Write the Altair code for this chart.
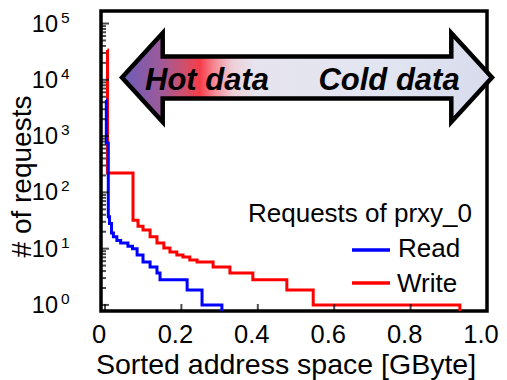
import altair as alt
import pandas as pd

# ---- data ----
series_names = ["Read", "Write"]
series_colors = ["#0000FF", "#FF0000"]

# step-after points: value holds from x until the next x (last point = drop to axis)
write_x = [0.006, 0.0065, 0.0733, 0.0864, 0.0995, 0.118, 0.136, 0.154, 0.170, 0.188,
           0.204, 0.222, 0.241, 0.283, 0.327, 0.387, 0.476, 0.545, 0.929]
write_y = [34000, 220, 32, 25, 21.5, 16.2, 12.6, 10.3, 8.7, 7.7,
           7.1, 6.3, 5.8, 4.7, 3.7, 2.8, 1.85, 1.0, 0.5]

read_x = [0.0026, 0.0034, 0.0086, 0.0118, 0.017, 0.022, 0.031, 0.041, 0.060, 0.072,
          0.084, 0.0995, 0.118, 0.136, 0.144, 0.215, 0.254, 0.306]
read_y = [4370, 754, 37, 28, 19, 16.2, 14, 12.6, 11, 10,
          7.7, 5.8, 4.7, 3.7, 2.8, 1.85, 1.0, 0.5]

x_ticks = [0, 0.2, 0.4, 0.6, 0.8, 1.0]
y_major = [1, 10, 100, 1000, 10000, 100000]
y_exponents = ["0", "1", "2", "3", "4", "5"]
y_minor = [m * 10 ** k for k in range(5) for m in range(2, 10)]

x_title = "Sorted address space [GByte]"
y_title = "# of requests"
legend_title = "Requests of prxy_0"
arrow_texts = ["Hot data", "Cold data"]

FONT = "Liberation Sans"
W, H = 386, 300

xscale = alt.Scale(domain=[-0.0105, 1.0], nice=False, zero=False)
yscale = alt.Scale(type="log", domain=[0.78, 167000], nice=False)

xaxis = alt.Axis(values=x_ticks, ticks=False, tickSize=0, domain=False, grid=False,
                 labelExpr="datum.value == 0 ? '0' : format(datum.value, '.1f')",
                 labelFont=FONT, labelFontSize=25.5, labelColor="black",
                 labelPadding=11.5, labelOffset=-6.5, labelFlush=False, title=None)
xenc = alt.X("x:Q", scale=xscale, axis=xaxis)
yenc = alt.Y("y:Q", scale=yscale, axis=None)


def line_layer(xs, ys, color):
    df = pd.DataFrame({"x": xs, "y": ys})
    return alt.Chart(df).mark_line(interpolate="step-after", strokeWidth=3,
                                   clip=True, color=color).encode(x=xenc, y=yenc)


def label(text, x, y, **kw):
    df = pd.DataFrame({"t": [text]})
    return alt.Chart(df).mark_text(font=FONT, color="black", **kw).encode(
        x=alt.value(x), y=alt.value(y), text="t:N")


write_line = line_layer(write_x, write_y, series_colors[1])
read_line = line_layer(read_x, read_y, series_colors[0])

# ticks (inward)
x_tick_layer = alt.Chart(pd.DataFrame({"x": x_ticks})).mark_tick(
    orient="vertical", size=7, thickness=2, color="black").encode(
    x=xenc, y=alt.value(H - 3.5))
y_major_layer = alt.Chart(pd.DataFrame({"y": y_major})).mark_tick(
    orient="horizontal", size=8, thickness=2, color="black").encode(
    y=yenc, x=alt.value(4))
y_minor_layer = alt.Chart(pd.DataFrame({"y": y_minor})).mark_tick(
    orient="horizontal", size=5, thickness=2, color="black").encode(
    y=yenc, x=alt.value(2.5))

# y tick labels with superscript exponents
ylab_df = pd.DataFrame({"y": y_major, "exp": y_exponents, "base": ["10"] * len(y_major)})
y_base = alt.Chart(ylab_df).mark_text(font=FONT, fontSize=23.5, align="right",
                                      baseline="middle", dy=1, color="black").encode(
    y=yenc, x=alt.value(-43), text="base:N")
y_exp = alt.Chart(ylab_df).mark_text(font=FONT, fontSize=15.5, align="left",
                                     baseline="middle", dy=-6, color="black").encode(
    y=yenc, x=alt.value(-40), text="exp:N")

# titles
x_title_layer = label(x_title, 185, 363, fontSize=28.5, align="center", baseline="alphabetic")
y_title_layer = label(y_title, -78, 165.5, fontSize=28, align="center", baseline="middle", angle=270)

# legend (manual)
leg_title = label(legend_title, 371, 210.7, fontSize=26, align="right", baseline="alphabetic")
leg_read_line = alt.Chart(pd.DataFrame({"s": [series_names[0]]})).mark_rule(
    strokeWidth=3.5, color=series_colors[0]).encode(
    x=alt.value(251), x2=alt.value(289), y=alt.value(239))
leg_write_line = alt.Chart(pd.DataFrame({"s": [series_names[1]]})).mark_rule(
    strokeWidth=3.5, color=series_colors[1]).encode(
    x=alt.value(251), x2=alt.value(289), y=alt.value(272))
leg_read = label(series_names[0], 297, 246, fontSize=26, align="left", baseline="alphabetic")
leg_write = label(series_names[1], 296, 280.7, fontSize=26, align="left", baseline="alphabetic")

# double-headed gradient arrow
arrow_path = ("M -1 0 L -0.78 -0.24 L -0.78 -0.113 L 0.78 -0.113 L 0.78 -0.24 L 1 0 "
              "L 0.78 0.24 L 0.78 0.113 L -0.78 0.113 L -0.78 0.24 Z")
gradient = alt.LinearGradient(
    gradient="linear", x1=0, x2=1, y1=0, y2=0,
    stops=[
        alt.GradientStop(offset=0.0, color="#6B5CB8"),
        alt.GradientStop(offset=0.10, color="#9A5A9C"),
        alt.GradientStop(offset=0.17, color="#D04F6A"),
        alt.GradientStop(offset=0.21, color="#F53C48"),
        alt.GradientStop(offset=0.25, color="#F58A96"),
        alt.GradientStop(offset=0.30, color="#EED0D8"),
        alt.GradientStop(offset=0.36, color="#E6E4EE"),
        alt.GradientStop(offset=0.70, color="#E2E5F1"),
        alt.GradientStop(offset=1.0, color="#D7DBEC"),
    ])
arrow = alt.Chart(pd.DataFrame({"a": ["arrow"]})).mark_point(
    shape=arrow_path, size=136900, filled=True, fill=gradient, stroke="black",
    strokeWidth=4.5, opacity=1, strokeJoin="miter").encode(
    x=alt.value(206), y=alt.value(66.5))
hot = label(arrow_texts[0], 106, 79, fontSize=31, fontWeight="bold", fontStyle="italic",
            align="center", baseline="alphabetic")
cold = label(arrow_texts[1], 288, 79, fontSize=31, fontWeight="bold", fontStyle="italic",
             align="center", baseline="alphabetic")

chart = alt.layer(
    write_line, read_line, x_tick_layer, y_major_layer, y_minor_layer,
    y_base, y_exp, x_title_layer, y_title_layer,
    leg_title, leg_read_line, leg_write_line, leg_read, leg_write,
    arrow, hot, cold,
).properties(
    width=W, height=H,
    padding={"left": 101, "top": 11, "right": 20, "bottom": 69},
    autosize=alt.AutoSizeParams(type="none"),
    background="white",
).configure_view(stroke="black", strokeWidth=3.5)

chart.save("out.html", embed_options={"renderer": "svg", "actions": False})
